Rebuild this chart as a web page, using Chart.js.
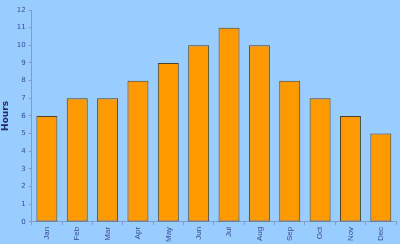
<!DOCTYPE html>
<html>
<head>
<meta charset="utf-8">
<script src="https://cdn.jsdelivr.net/npm/chart.js@4"></script>
<style>
  html, body { margin: 0; padding: 0; background: #99ccff; }
  #wrap { width: 400px; height: 244px; }
</style>
</head>
<body>
<div id="wrap"><canvas id="chartHours"></canvas></div>
<script>
const months = ["Jan", "Feb", "Mar", "Apr", "May", "Jun", "Jul", "Aug", "Sep", "Oct", "Nov", "Dec"];
const hours = [6, 7, 7, 8, 9, 10, 11, 10, 8, 7, 6, 5];
const yTicks = [0, 1, 2, 3, 4, 5, 6, 7, 8, 9, 10, 11, 12];

const axisColor = "#7f9acc";
const labelColor = "#3b4a9a";

const chartHours = document.getElementById("chartHours");
new Chart(chartHours, {
  type: "bar",
  data: {
    labels: months,
    datasets: [
      {
        label: "Hours",
        data: hours,
        backgroundColor: "#ff9900",
        borderColor: "#4a4030",
        borderWidth: 1,
        borderSkipped: false,
        categoryPercentage: 1,
        barPercentage: 0.69,
      },
    ],
  },
  options: {
    responsive: true,
    maintainAspectRatio: false,
    animation: false,
    layout: {
      padding: { top: 10, right: 4, bottom: 0, left: 0 },
    },
    scales: {
      x: {
        grid: {
          drawOnChartArea: false,
          color: axisColor,
          tickLength: 3,
        },
        border: { color: axisColor },
        ticks: {
          color: labelColor,
          font: { family: "Liberation Sans", size: 8 },
          minRotation: 90,
          maxRotation: 90,
          padding: 2,
        },
      },
      y: {
        min: 0,
        max: 12,
        afterBuildTicks: (axis) => {
          axis.ticks = yTicks.map((v) => ({ value: v }));
        },
        grid: {
          drawOnChartArea: false,
          color: axisColor,
          tickLength: 3,
        },
        border: { color: axisColor },
        ticks: {
          color: labelColor,
          font: { family: "DejaVu Sans", size: 7 },
          padding: 3,
        },
        title: {
          display: true,
          text: "Hours",
          color: "#1c2a6e",
          font: { family: "DejaVu Sans", size: 9, weight: "bold" },
          padding: { top: 0, bottom: 3 },
        },
      },
    },
    plugins: {
      legend: { display: false },
      tooltip: { enabled: false },
    },
  },
});
</script>
</body>
</html>
